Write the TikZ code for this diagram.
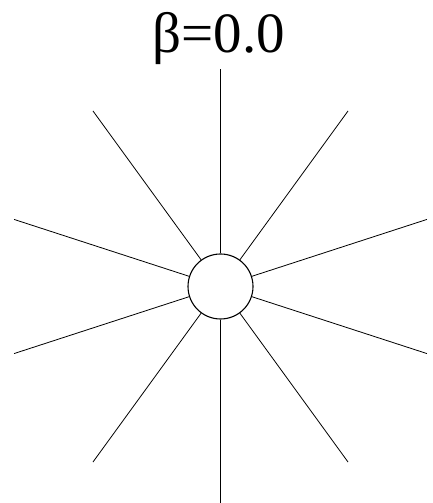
\documentclass[tikz,border=0pt]{standalone}
\usepackage{fontspec}
\setmainfont{Liberation Serif}
\usepackage{tikz}
\usetikzlibrary{calc}

\begin{document}
\begin{tikzpicture}[x=1pt,y=1pt]
    \useasboundingbox (0,0) rectangle (433,503);
    \node[draw,circle,minimum size=65pt,inner sep=0pt,line width=1.1pt] (hub) at (220.5,216.5) {};
    \foreach \a in {90,126,...,414} {
      \coordinate (tip\a) at ($(hub.center)+(\a:217)$);
      \draw[line width=0.8pt] (hub.\a) -- (tip\a);
    }
    \node[font=\fontsize{57}{60}\selectfont,anchor=base,inner sep=0pt] (title) at (219,450) {β=0.0};
  \end{tikzpicture}
\end{document}
